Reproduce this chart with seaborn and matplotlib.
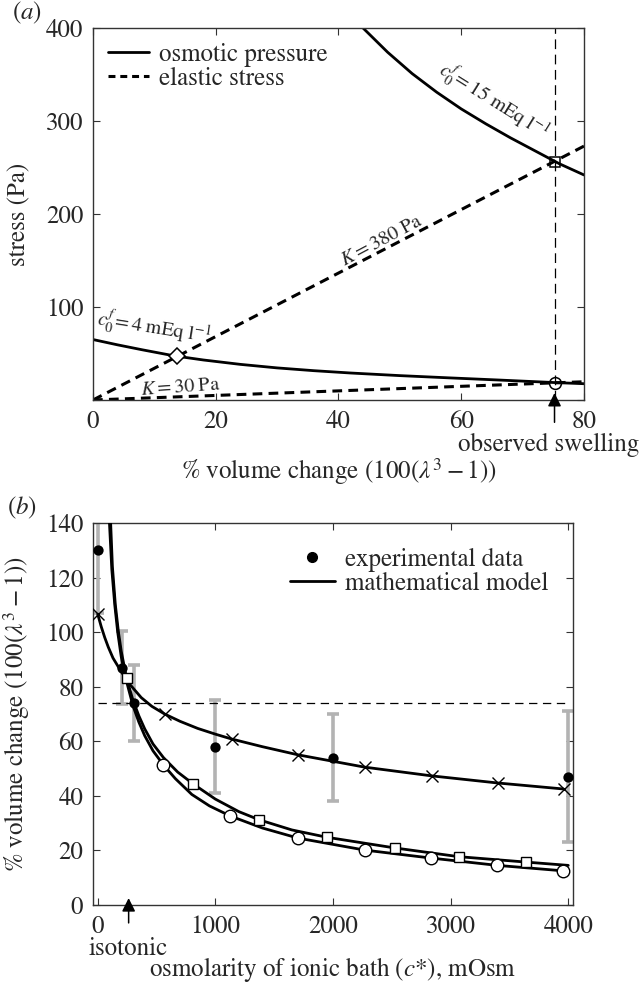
import numpy as np
import pandas as pd
import matplotlib
matplotlib.use('Agg')
import matplotlib.pyplot as plt
from matplotlib.lines import Line2D
import seaborn as sns

# ---- panel (a): stress vs volume change ----
osm4_x = [0, 4, 8, 13.2, 18, 24, 30, 36, 42, 50, 58, 66, 75, 80]
osm4_y = [65, 59.3, 54, 47.5, 43, 38.3, 34.5, 31.5, 29, 26.2, 23.8, 21.5, 18.8, 17.5]
osm15_x = [40, 44, 48, 52, 56, 60, 64, 68, 72, 76, 80]
osm15_y = [428, 400, 374, 351, 331, 313, 297, 282, 268, 254, 242]
k380_x = [0, 80]
k380_y = [0, 273]
k30_x = [0, 80]
k30_y = [0, 19.6]
observed_swelling = 75.2
cross_pts = {'diamond': (13.7, 46.8), 'square': (75.2, 256), 'circle': (75.2, 18.6)}

# ---- panel (b): volume change vs bath osmolarity ----
exp_x = [0, 205, 305, 1000, 2000, 4000]
exp_y = [130, 87, 74, 58, 54, 47]
exp_err = [23, 13.5, 14, 17, 16, 24]

cross_x = [0, 30, 60, 90, 130, 200, 280, 370, 460, 568, 700, 850, 1000, 1140,
           1400, 1705, 2270, 2840, 3400, 3960]
cross_y = [106.6, 102, 98, 94.5, 90.5, 85.5, 80.5, 76, 72.8, 70, 67.3, 64.7, 62.6,
           60.8, 58, 55, 50.5, 47.3, 44.7, 42.5]
cross_mx = [0, 568, 1140, 1705, 2270, 2840, 3400, 3960]
cross_my = [106.6, 70, 60.8, 55, 50.5, 47.3, 44.7, 42.5]

sq_x = [90, 100, 110, 125, 150, 175, 200, 246, 300, 350, 400, 470, 559, 680, 813,
        1000, 1200, 1373, 1650, 1949, 2525, 3068, 3644, 4000]
sq_y = [175, 152, 140, 124, 110, 100.5, 93, 83, 75, 69.3, 64.5, 59, 54, 48.7, 44.3,
        38.8, 34.2, 31.2, 27.5, 24.8, 20.9, 17.7, 15.7, 14.5]
sq_mx = [246, 813, 1373, 1949, 2525, 3068, 3644]
sq_my = [83, 44.3, 31.2, 24.8, 20.9, 17.7, 15.7]

circ_x = [80, 90, 100, 120, 145, 170, 200, 230, 260, 300, 350, 400, 470, 559, 660,
          800, 950, 1127, 1400, 1703, 2271, 2830, 3398, 3958]
circ_y = [180, 155, 140, 123, 110, 100, 91, 84.5, 79.5, 73, 67, 62, 56.5, 51.3, 46.3,
          40.5, 36.3, 32.6, 28.2, 24.5, 20.1, 17.2, 14.5, 12.5]
circ_mx = [559, 1127, 1703, 2271, 2830, 3398, 3958]
circ_my = [51.3, 32.6, 24.5, 20.1, 17.2, 14.5, 12.5]

isotonic = 263
dashed_level = 74

sns.set_theme(style='ticks')
plt.rcParams['font.family'] = ['STIXGeneral', 'DejaVu Serif']
plt.rcParams['mathtext.fontset'] = 'stix'
plt.rcParams['lines.scale_dashes'] = False
plt.rcParams['xtick.direction'] = 'in'
plt.rcParams['ytick.direction'] = 'in'

FS = 18
AFS = 14.5
VLABEL = r'% volume change (100($\lambda^3-1$))'


def style_axes(ax):
    for s in ax.spines.values():
        s.set_color('#333333')
        s.set_linewidth(1.0)
    ax.tick_params(which='both', length=5, width=0.8, color='#333333',
                   labelsize=FS, pad=7, top=True, right=True)


def up_arrow(ax, x, y0, y1):
    ax.annotate('', xy=(x, y1), xytext=(x, y0),
                xycoords=('data', 'axes fraction'), textcoords=('data', 'axes fraction'),
                annotation_clip=False,
                arrowprops=dict(arrowstyle='-|>', color='black', lw=1.1,
                                mutation_scale=20, shrinkA=0, shrinkB=0))


fig = plt.figure(figsize=(6.44, 9.83), dpi=100)

# ================= panel (a) =================
ax1 = fig.add_axes([0.1444, 0.5931, 0.7624, 0.3784])
dash_thick = (7, 4.5)
sns.lineplot(x=osm4_x, y=osm4_y, ax=ax1, color='black', lw=2, estimator=None, sort=False)
sns.lineplot(x=osm15_x, y=osm15_y, ax=ax1, color='black', lw=2, estimator=None, sort=False)
ax1.plot(k380_x, k380_y, color='black', lw=2.2, dashes=dash_thick)
ax1.plot(k30_x, k30_y, color='black', lw=2.2, dashes=dash_thick)
ax1.axvline(observed_swelling, color='black', lw=0.9, dashes=(7, 4))

ax1.plot(*cross_pts['diamond'], marker='D', ms=8, mfc='white', mec='black', mew=1.1)
ax1.plot(*cross_pts['square'], marker='s', ms=7.5, mfc='none', mec='black', mew=1.1)
ax1.plot(*cross_pts['circle'], marker='o', ms=8.5, mfc='none', mec='black', mew=1.1)

ax1.set_xlim(0, 80)
ax1.set_ylim(0, 400)
ax1.set_xticks([0, 20, 40, 60, 80])
ax1.set_yticks([0, 100, 200, 300, 400])
ax1.set_yticklabels(['', '100', '200', '300', '400'])
style_axes(ax1)

ax1.text(65.2, 321.5, r'$c_0^f\!= 15\ \mathrm{mEq\ l^{-1}}$', fontsize=AFS,
         rotation=-32, rotation_mode='anchor', ha='center', va='center')
ax1.text(47.1, 171, r'$K = 380\ \mathrm{Pa}$', fontsize=AFS,
         rotation=28, rotation_mode='anchor', ha='center', va='center')
ax1.text(10.0, 77, r'$c_0^f\!=4\ \mathrm{mEq\ l^{-1}}$', fontsize=AFS,
         rotation=-9, rotation_mode='anchor', ha='center', va='center')
ax1.text(14.3, 13.5, r'$K = 30\ \mathrm{Pa}$', fontsize=AFS,
         rotation=4, rotation_mode='anchor', ha='center', va='center')

up_arrow(ax1, observed_swelling, -0.06, 0.019)
ax1.text(74.3, -0.121, 'observed swelling', transform=ax1.get_xaxis_transform(),
         ha='center', va='center', fontsize=FS)

ax1.set_xlabel(VLABEL, fontsize=FS)
ax1.xaxis.set_label_coords(0.5, -0.15)
ax1.set_ylabel('stress (Pa)', fontsize=FS)
ax1.yaxis.set_label_coords(-0.125, 0.5)
ax1.text(-0.165, 1.04, r'($a$)', transform=ax1.transAxes, fontsize=FS,
         ha='left', va='center')

h1 = [Line2D([], [], color='black', lw=2),
      Line2D([], [], color='black', lw=2.2, dashes=(5, 3.5))]
ax1.legend(h1, ['osmotic pressure', 'elastic stress'], loc='upper left',
           frameon=False, fontsize=FS, handlelength=1.65, handletextpad=0.4,
           labelspacing=0.0, borderaxespad=0.2)

# ================= panel (b) =================
ax2 = fig.add_axes([0.1444, 0.0794, 0.7453, 0.3886])
ax2.axhline(dashed_level, xmin=0.01, xmax=0.985, color='black', lw=0.9, dashes=(6, 4))
ax2.errorbar(exp_x, exp_y, yerr=exp_err, fmt='none', ecolor='#b3b3b3',
             elinewidth=2.6, capsize=4, capthick=2.6, zorder=1)

for xs, ys in [(cross_x, cross_y), (sq_x, sq_y), (circ_x, circ_y)]:
    sns.lineplot(x=xs, y=ys, ax=ax2, color='black', lw=2, estimator=None,
                 sort=False, zorder=3)

ax2.plot(cross_mx, cross_my, ls='none', marker='x', ms=9, mec='black', mew=1.0, zorder=4)
ax2.plot(sq_mx, sq_my, ls='none', marker='s', ms=7, mfc='white', mec='black', mew=1.0, zorder=4)
ax2.plot(circ_mx, circ_my, ls='none', marker='o', ms=9, mfc='white', mec='black', mew=1.0, zorder=4)
sns.scatterplot(x=exp_x, y=exp_y, ax=ax2, color='black', s=55, edgecolor='black',
                linewidth=0, zorder=5, clip_on=False)

ax2.set_xlim(-40, 4040)
ax2.set_ylim(0, 140)
ax2.set_xticks([0, 1000, 2000, 3000, 4000])
ax2.set_yticks(np.arange(0, 141, 20))
style_axes(ax2)

up_arrow(ax2, isotonic, -0.047, 0.018)
ax2.text(isotonic, -0.116, 'isotonic', transform=ax2.get_xaxis_transform(),
         ha='center', va='center', fontsize=FS)

ax2.set_xlabel(r'osmolarity of ionic bath ($c$*), mOsm', fontsize=FS)
ax2.xaxis.set_label_coords(0.5, -0.13)
ax2.set_ylabel(VLABEL, fontsize=FS)
ax2.yaxis.set_label_coords(-0.128, 0.5)
ax2.text(-0.18, 1.04, r'($b$)', transform=ax2.transAxes, fontsize=FS,
         ha='left', va='center')

h2 = [Line2D([], [], ls='none', marker='o', ms=7, color='black'),
      Line2D([], [], color='black', lw=2)]
ax2.legend(h2, ['experimental data', 'mathematical model'], loc='upper right',
           frameon=False, fontsize=FS, handlelength=1.8, handletextpad=0.4,
           labelspacing=0.0, borderaxespad=0.6)

fig.savefig('out.png', dpi=100)
